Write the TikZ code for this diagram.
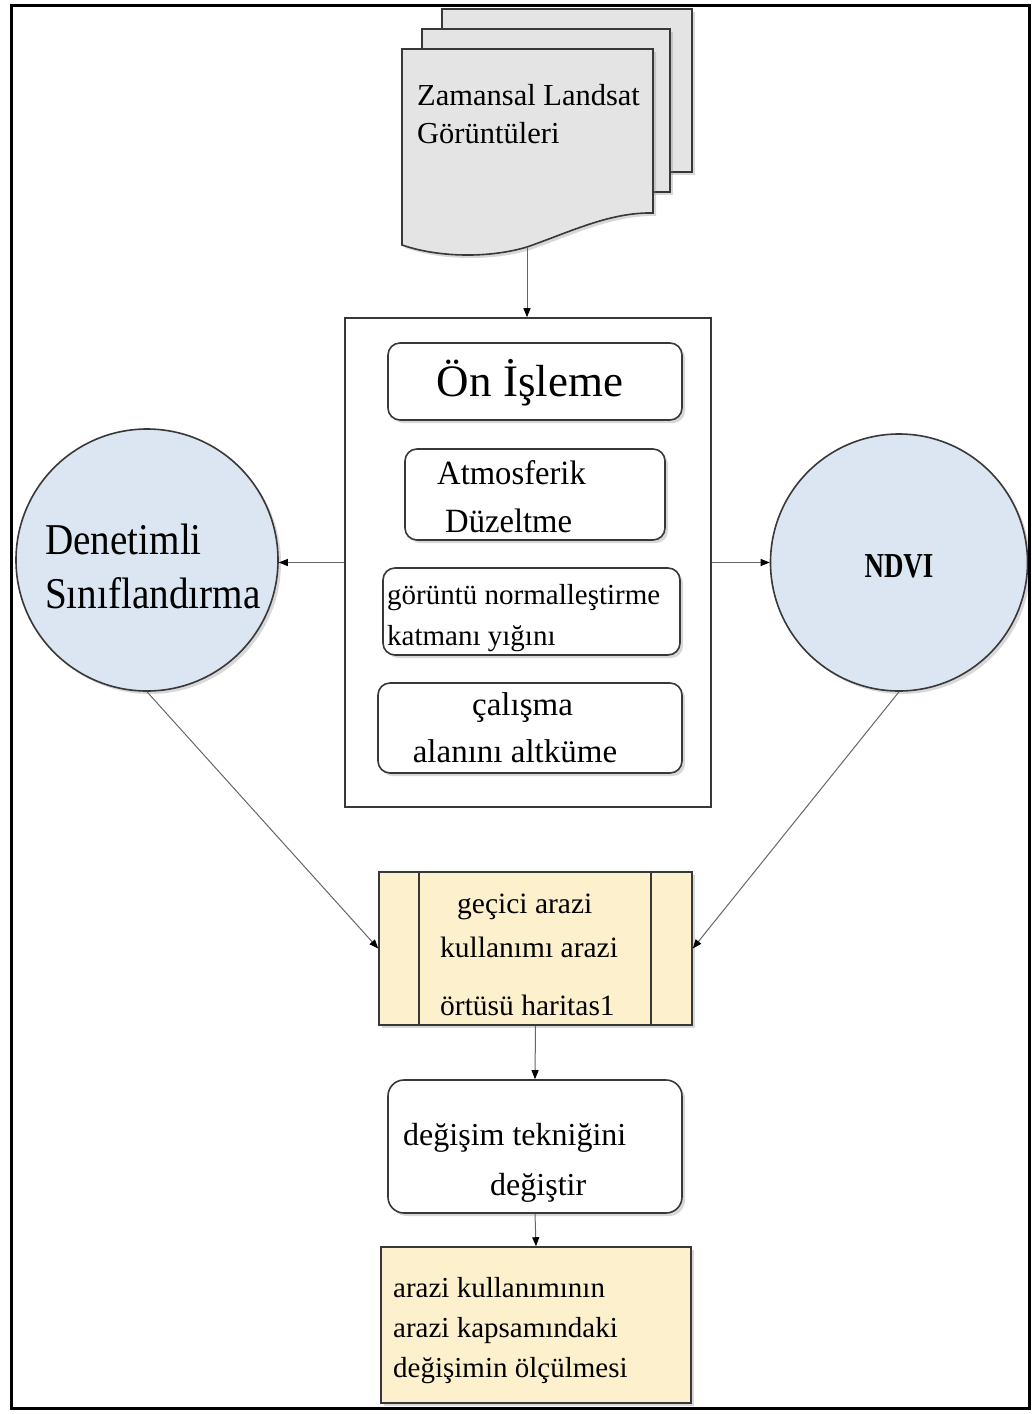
\documentclass[tikz,border=0pt]{standalone}
\usepackage{fontspec}
\usepackage{graphicx}
\setmainfont{Liberation Serif}
\usetikzlibrary{shadows,arrows.meta}
\definecolor{circfill}{HTML}{DCE6F2}
\definecolor{yel}{HTML}{FDF0CC}
\definecolor{docgray}{HTML}{E4E4E4}
\definecolor{edge}{HTML}{383838}
\newcommand{\sqz}[2]{\scalebox{#1}[1]{#2}}
\tikzset{
  shad/.style={drop shadow={shadow xshift=3pt,shadow yshift=-3pt,opacity=0.3}},
  box/.style={draw=edge,line width=1.6pt,fill=white,rounded corners=12pt,shad},
  plainbox/.style={draw=edge,line width=1.6pt,fill=white},
  yelbox/.style={draw=edge,line width=1.6pt,fill=yel,shad},
  circ/.style={circle,draw=edge,line width=1.6pt,fill=circfill,shad},
  docpage/.style={draw=edge,line width=1.6pt,fill=docgray,shad},
  txt/.style={inner sep=0pt,anchor=west,align=left},
  arr/.style={draw=black!60,line width=1pt,-{Triangle[length=9pt,width=7pt,color=black]}},
  fz/.style 2 args={font=\fontsize{#1}{#2}\selectfont}
}
\begin{document}
\begin{tikzpicture}[x=1pt,y=-1pt]
\useasboundingbox (0,0) rectangle (1032,1414);
\fill[white] (0,0) rectangle (1032,1414);
% document stack
\filldraw[docpage] (442,9) rectangle (692,172);
\filldraw[docpage] (422,29) rectangle (670,192);
\filldraw[docpage] (402,49) -- (653,49) -- (653,213) .. controls (610,212) and (570,232) .. (527,247) .. controls (490,258) and (440,258) .. (402,245) -- cycle;
\coordinate (docb) at (527,247);
\node[txt,fz={30.5}{38}] (tdoc) at (417,114) {Zamansal Landsat\\Görüntüleri};
% preprocessing container
\node[plainbox,minimum width=366pt,minimum height=489pt] (prep) at (528,562.5) {};
\node[box,minimum width=294pt,minimum height=77pt] (b1) at (535,381.5) {};
\node[inner sep=0pt,fz={45}{50}] (t1) at (530,383) {Ön İşleme};
\node[box,minimum width=260pt,minimum height=91pt] (b2) at (535,494.5) {};
\node[txt,fz={34}{48}] (t2) at (437,497) {\sqz{0.96}{Atmosferik}\\\hspace*{8pt}\sqz{0.96}{Düzeltme}};
\node[box,minimum width=297pt,minimum height=87pt] (b3) at (531.5,611.5) {};
\node[txt,fz={29}{41}] (t3) at (387,618) {görüntü normalleştirme\\katmanı yığını};
\node[box,minimum width=304pt,minimum height=90pt] (b4) at (530,728) {};
\node[inner sep=0pt,align=center,fz={33}{47}] (t4) at (515,728) {\hspace*{15pt}çalışma\\alanını altküme};
% circles
\node[circ,minimum size=262pt] (dc) at (147,560) {};
\node[txt,fz={44}{54}] (t5) at (45,566) {\sqz{0.89}{Denetimli}\\\sqz{0.89}{Sınıflandırma}};
\node[circ,minimum size=257pt] (ndvi) at (899,562.5) {};
\node[inner sep=0pt,font=\fontsize{35}{38}\selectfont\bfseries] (t6) at (899,566) {\sqz{0.77}{NDVI}};
% temporary map
\node[yelbox,minimum width=313pt,minimum height=153pt] (gec) at (535.5,948.5) {};
\draw[draw=edge,line width=1.6pt] ([xshift=41pt]gec.north west) -- ([xshift=41pt]gec.south west);
\draw[draw=edge,line width=1.6pt] ([xshift=-42pt]gec.north east) -- ([xshift=-42pt]gec.south east);
\node[txt,fz={29.5}{44}] (t7) at (440,955) {\hspace*{17pt}geçici arazi\\kullanımı arazi\\[14pt]örtüsü haritas1};
% change technique
\node[box,rounded corners=16pt,minimum width=294pt,minimum height=133pt] (deg) at (535,1146.5) {};
\node[txt,fz={32}{50}] (t8) at (403,1163) {değişim tekniğini\\\hspace*{87pt}değiştir};
% final
\node[yelbox,minimum width=310pt,minimum height=156pt] (fin) at (536,1325) {};
\node[txt,fz={29}{40}] (t9) at (393,1331) {arazi kullanımının\\arazi kapsamındaki\\değişimin ölçülmesi};
% connectors
\draw[arr] (docb) -- (docb |- prep.north);
\draw[arr] (prep.west) -- (dc.east |- prep.west);
\draw[arr] (prep.east) -- (ndvi.west |- prep.east);
\draw[arr] (dc.south) -- (gec.west);
\draw[arr] (ndvi.south) -- (gec.east);
\draw[arr] (gec.south) -- (deg.north);
\draw[arr] (deg.south) -- (fin.north);
% frame
\draw[line width=3pt,black] (11,5) rectangle (1029,1408);
\end{tikzpicture}
\end{document}
